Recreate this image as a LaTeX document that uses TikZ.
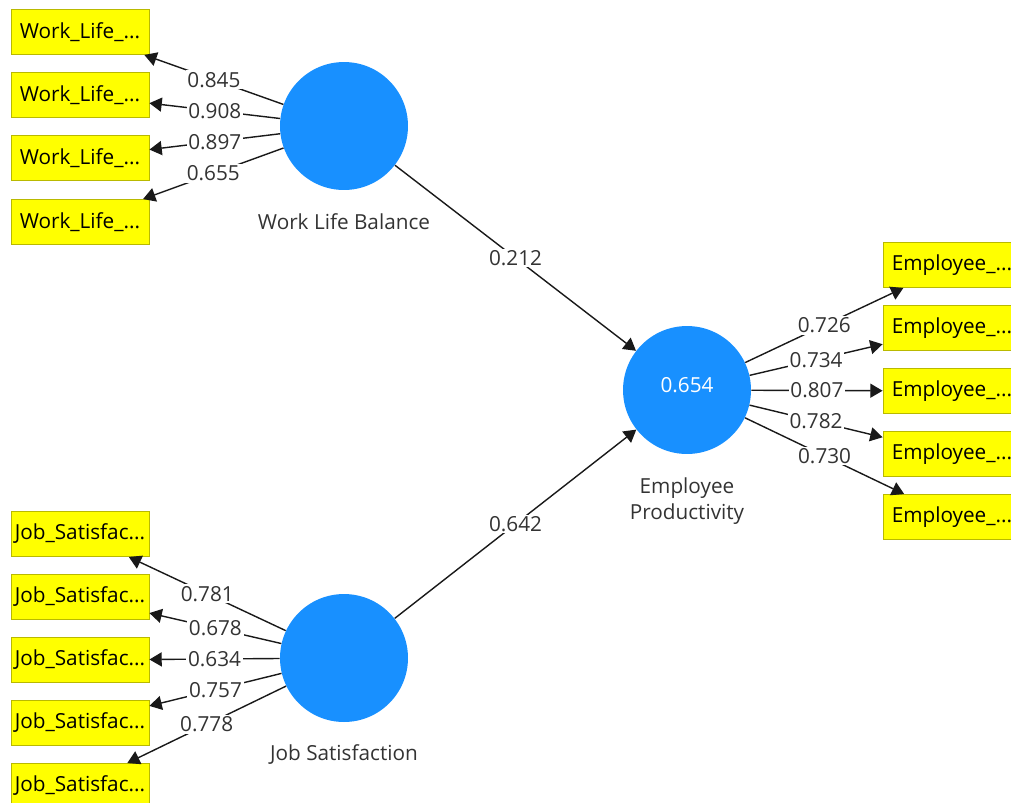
\documentclass[tikz,border=0pt]{standalone}
\usepackage{fontspec}
\setmainfont{Open Sans}
\usetikzlibrary{arrows.meta}
\definecolor{latent}{RGB}{24,144,255}
\definecolor{indfill}{RGB}{255,255,0}
\definecolor{indline}{RGB}{185,185,0}
\tikzset{
	latentvar/.style={circle,fill=latent,minimum size=2.56cm,inner sep=0pt,text=white,font=\fontsize{11.8}{13}\selectfont},
	indicator/.style={rectangle,fill=indfill,draw=indline,line width=0.5pt,minimum width=2.76cm,minimum height=0.9cm,inner sep=0pt,font=\fontsize{11.8}{13}\selectfont},
	path/.style={draw=black!90,line width=0.8pt,-{Triangle[length=7pt,width=8pt]}},
	weight/.style={fill=white,inner sep=1pt,text=black!80,font=\fontsize{11.8}{13}\selectfont},
	varname/.style={text=black!80,align=center,font=\fontsize{11.8}{15}\selectfont}
}
\begin{document}
\begin{tikzpicture}[x=0.02cm,y=-0.02cm]
	
		\useasboundingbox (0,0) rectangle (1011,802);
		\clip (0,0) rectangle (1011,802);
		
		\node[latentvar] (wlb) at (344,126) {};
		\node[latentvar] (js) at (344,658) {};
		\node[latentvar] (ep) at (687,390) {\raisebox{6pt}{0.654}};
		\node[varname] (wlbname) at (344,222) {Work Life Balance};
		\node[varname] (jsname) at (344,755) {Job Satisfaction};
		\node[varname] (epname) at (687,501) {Employee\\Productivity};
		
		\node[indicator] (w1) at (80,32) {Work\_Life\_...};
		\node[indicator] (w2) at (80,95) {Work\_Life\_...};
		\node[indicator] (w3) at (80,158) {Work\_Life\_...};
		\node[indicator] (w4) at (80,222) {Work\_Life\_...};
		
		\node[indicator] (j1) at (80,534) {Job\_Satisfac...};
		\node[indicator] (j2) at (80,597) {Job\_Satisfac...};
		\node[indicator] (j3) at (80,660) {Job\_Satisfac...};
		\node[indicator] (j4) at (80,723) {Job\_Satisfac...};
		\node[indicator] (j5) at (80,786) {Job\_Satisfac...};
		
		\node[indicator] (e1) at (952,265) {Employee\_...};
		\node[indicator] (e2) at (952,328) {Employee\_...};
		\node[indicator] (e3) at (952,391) {Employee\_...};
		\node[indicator] (e4) at (952,454) {Employee\_...};
		\node[indicator] (e5) at (952,517) {Employee\_...};
		
		\draw[path] (wlb) -- node[weight] {0.845} (w1);
		\draw[path] (wlb) -- node[weight] {0.908} (w2);
		\draw[path] (wlb) -- node[weight] {0.897} (w3);
		\draw[path] (wlb) -- node[weight] {0.655} (w4);
		
		\draw[path] (js) -- node[weight] {0.781} (j1);
		\draw[path] (js) -- node[weight] {0.678} (j2);
		\draw[path] (js) -- node[weight] {0.634} (j3);
		\draw[path] (js) -- node[weight] {0.757} (j4);
		\draw[path] (js) -- node[weight] {0.778} (j5);
		
		\draw[path] (ep) -- node[weight] {0.726} (e1);
		\draw[path] (ep) -- node[weight] {0.734} (e2);
		\draw[path] (ep) -- node[weight] {0.807} (e3);
		\draw[path] (ep) -- node[weight] {0.782} (e4);
		\draw[path] (ep) -- node[weight] {0.730} (e5);
		
		\draw[path] (wlb) -- node[weight] {0.212} (ep);
		\draw[path] (js) -- node[weight] {0.642} (ep);
	\end{tikzpicture}
\end{document}
